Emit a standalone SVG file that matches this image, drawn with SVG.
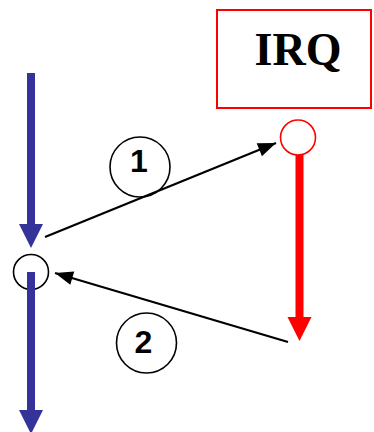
<svg xmlns="http://www.w3.org/2000/svg" width="374" height="432" viewBox="0 0 374 432">
<style>
.blue{stroke:#333399;stroke-width:8;fill:none}
.red{stroke:#ff0000;stroke-width:8;fill:none}
.thin{stroke:#000;stroke-width:2.2;fill:none}
.lbl{font-family:"Liberation Sans",Arial,sans-serif;font-weight:bold;font-size:32px;fill:#000;text-anchor:middle}
</style>
<defs>
<marker id="hb" markerUnits="userSpaceOnUse" markerWidth="24" markerHeight="24" refX="0" refY="12" orient="auto" overflow="visible"><path d="M0,0 L24,12 L0,24 z" fill="#333399"/></marker>
<marker id="hr" markerUnits="userSpaceOnUse" markerWidth="24" markerHeight="24" refX="0" refY="12" orient="auto" overflow="visible"><path d="M0,0 L24,12 L0,24 z" fill="#ff0000"/></marker>
<marker id="hk" markerUnits="userSpaceOnUse" markerWidth="18" markerHeight="14" refX="18" refY="7" orient="auto" overflow="visible"><path d="M0,0 L18,7 L0,14 z" fill="#000"/></marker>
</defs>
<g id="irq">
<rect x="217" y="10" width="154" height="98" fill="#fff" stroke="#ff0000" stroke-width="2"/>
<text x="298" y="65" font-family="Liberation Serif,'Times New Roman',serif" font-weight="bold" font-size="46" text-anchor="middle">IRQ</text>
</g>
<g id="irq-point"><circle cx="298" cy="137.5" r="17.5" fill="#fff" stroke="#ff0000" stroke-width="1.6"/></g>
<g id="main-point"><circle cx="31" cy="272" r="17.5" fill="none" stroke="#000" stroke-width="1.6"/></g>
<g id="label1"><circle cx="140" cy="167" r="30" fill="#fff" stroke="#000" stroke-width="1.6"/><text class="lbl" x="139" y="172">1</text></g>
<g id="label2"><circle cx="146.5" cy="343" r="30" fill="#fff" stroke="#000" stroke-width="1.6"/><text class="lbl" x="143.5" y="353">2</text></g>
<g id="connectors">
<line class="blue" x1="31" y1="73" x2="31" y2="224" marker-end="url(#hb)"/>
<line class="blue" x1="31" y1="272" x2="31" y2="410" marker-end="url(#hb)"/>
<line class="red" x1="299.5" y1="155" x2="299.5" y2="317" marker-end="url(#hr)"/>
<line class="thin" x1="45" y1="237" x2="276" y2="143" marker-end="url(#hk)"/>
<line class="thin" x1="288" y1="342" x2="55" y2="273" marker-end="url(#hk)"/>
</g>
</svg>
